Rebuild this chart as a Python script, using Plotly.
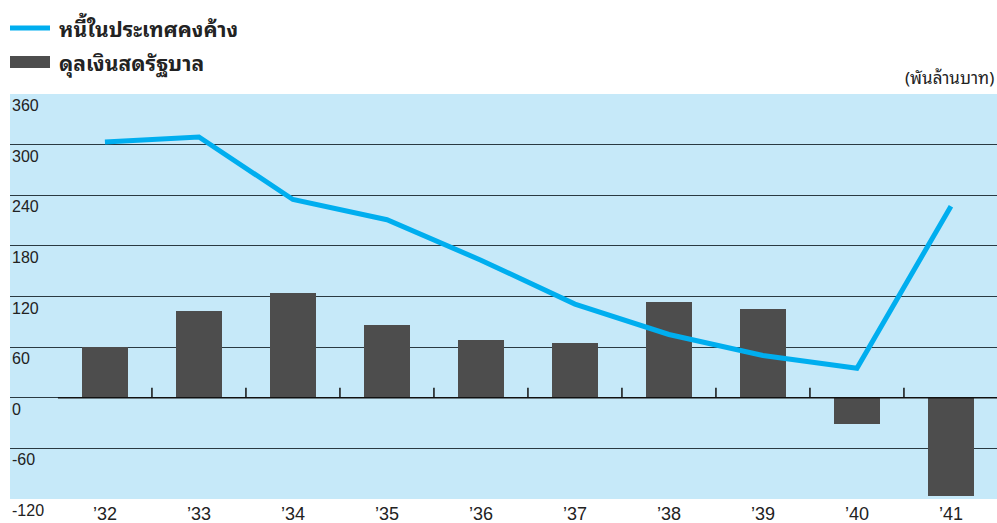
import plotly.graph_objects as go

years = ["’32", "’33", "’34", "’35", "’36", "’37", "’38", "’39", "’40", "’41"]
debt = [303, 309, 235, 211, 163, 111, 75, 50, 35, 227]
balance = [60, 103, 124, 86, 69, 65, 113, 105, -31, -116]
y_ticks = [360, 300, 240, 180, 120, 60, 0, -60, -120]

legend_line = "หนี้ในประเทศคงค้าง"
legend_bar = "ดุลเงินสดรัฐบาล"
unit_label = "(พันล้านบาท)"

BG = "#c6e9f9"
LINE = "#00aeef"
BAR = "#4d4d4d"
FONT = "Liberation Sans, Arial, Noto Sans Thai Looped, Noto Sans Thai, sans-serif"
THAI = "Noto Sans Thai Looped, Liberation Sans, Noto Sans Thai, sans-serif"

W, H = 997, 523
ML, MT, MB = 10, 94, 24
PW = W - ML
PH = H - MT - MB

def py(y_px):
    return 1 - (y_px - MT) / PH

xs = list(range(len(years)))

fig = go.Figure()
fig.add_trace(go.Bar(x=xs, y=balance, width=0.49, marker=dict(color=BAR, line=dict(width=0)),
                     name=legend_bar, showlegend=False))
fig.add_trace(go.Scatter(x=xs, y=debt, mode="lines", line=dict(color=LINE, width=5),
                         name=legend_line, showlegend=False))

shapes = []
shapes.append(dict(type="line", xref="x", yref="y", x0=-0.5, x1=9.49, y0=0, y1=0,
                   line=dict(color="#111", width=1.5), layer="above"))
for i in range(len(years) - 1):
    shapes.append(dict(type="line", xref="x", yref="y", x0=i + 0.5, x1=i + 0.5, y0=0, y1=12,
                       line=dict(color="#111", width=1.5), layer="above"))
shapes.append(dict(type="line", xref="paper", yref="paper", x0=0, x1=40 / PW,
                   y0=py(28), y1=py(28), line=dict(color=LINE, width=5)))
shapes.append(dict(type="rect", xref="paper", yref="paper", x0=0, x1=40 / PW,
                   y0=py(68), y1=py(56), fillcolor=BAR, line=dict(width=0)))

annotations = []
for v in y_ticks:
    annotations.append(dict(xref="paper", yref="y", x=0, y=v, text=str(v), showarrow=False,
                            xanchor="left", yanchor="top", xshift=0, yshift=-1,
                            font=dict(family=FONT, size=16, color="#222")))
annotations.append(dict(xref="paper", yref="paper", x=47 / PW, y=py(27),
                        text="<b>" + legend_line + "</b>", showarrow=False,
                        xanchor="left", yanchor="middle",
                        font=dict(family=THAI, size=21, color="#222")))
annotations.append(dict(xref="paper", yref="paper", x=47 / PW, y=py(61),
                        text="<b>" + legend_bar + "</b>", showarrow=False,
                        xanchor="left", yanchor="middle",
                        font=dict(family=THAI, size=21, color="#222")))
annotations.append(dict(xref="paper", yref="paper", x=1, y=1, text=unit_label, showarrow=False,
                        xanchor="right", yanchor="bottom", xshift=-1, yshift=2,
                        font=dict(family=THAI, size=17, color="#222")))

fig.update_layout(
    width=W, height=H,
    margin=dict(l=ML, r=0, t=MT, b=MB, pad=0, autoexpand=False),
    paper_bgcolor="white", plot_bgcolor=BG,
    shapes=shapes, annotations=annotations,
    bargap=0,
    font=dict(family=FONT, color="#222"),
    xaxis=dict(range=[-1.01, 9.49], tickvals=xs, ticktext=years, showgrid=False,
               zeroline=False, showline=False, ticks="", ticklen=0, ticklabelstandoff=2,
               automargin=False,
               tickfont=dict(family=FONT, size=18, color="#222")),
    yaxis=dict(range=[-120, 360], tickvals=y_ticks, showticklabels=False, automargin=False,
               gridcolor="#2a3a42", gridwidth=1, zeroline=False, showline=False),
)

fig.write_html(
    "out.html",
    config={"displayModeBar": False},
    post_script="document.body.style.margin='0';document.body.style.overflow='hidden';",
)
